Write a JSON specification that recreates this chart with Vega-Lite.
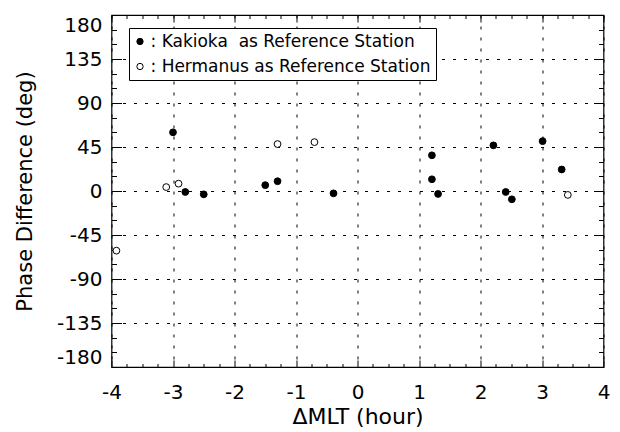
{
  "$schema": "https://vega.github.io/schema/vega-lite/v6.json",
  "width": 492,
  "height": 352,
  "autosize": {"type": "none"},
  "padding": {"left": 111.5, "top": 15, "right": 16.5, "bottom": 65},
  "background": "white",
  "config": {
    "font": "DejaVu Sans",
    "view": {"stroke": "black", "strokeWidth": 1.2},
    "axis": {"labelFont": "DejaVu Sans", "titleFont": "DejaVu Sans", "labelColor": "black", "titleColor": "black", "titleFontWeight": "normal", "tickColor": "black", "tickWidth": 1, "domain": false}
  },
  "data": {
    "values": [
      {"dmlt": -3.0, "phase": 60, "station": "Kakioka"},
      {"dmlt": -3.11, "phase": 4, "station": "Hermanus"},
      {"dmlt": -2.91, "phase": 7.5, "station": "Hermanus"},
      {"dmlt": -2.8, "phase": -1, "station": "Kakioka"},
      {"dmlt": -2.5, "phase": -3.4, "station": "Kakioka"},
      {"dmlt": -1.5, "phase": 6, "station": "Kakioka"},
      {"dmlt": -1.3, "phase": 10, "station": "Kakioka"},
      {"dmlt": -1.3, "phase": 48, "station": "Hermanus"},
      {"dmlt": -0.7, "phase": 50, "station": "Hermanus"},
      {"dmlt": -0.39, "phase": -2.4, "station": "Kakioka"},
      {"dmlt": 1.21, "phase": 36.5, "station": "Kakioka"},
      {"dmlt": 1.21, "phase": 12, "station": "Kakioka"},
      {"dmlt": 1.31, "phase": -3, "station": "Kakioka"},
      {"dmlt": 2.21, "phase": 46.7, "station": "Kakioka"},
      {"dmlt": 2.41, "phase": -1, "station": "Kakioka"},
      {"dmlt": 2.51, "phase": -8.5, "station": "Kakioka"},
      {"dmlt": 3.01, "phase": 51, "station": "Kakioka"},
      {"dmlt": 3.32, "phase": 22, "station": "Kakioka"},
      {"dmlt": 3.42, "phase": -4, "station": "Hermanus"},
      {"dmlt": -3.92, "phase": -61, "station": "Hermanus"}
    ]
  },
  "layer": [
    {
      "mark": {"type": "point", "shape": "circle", "filled": true, "stroke": "black", "strokeWidth": 1, "size": 46, "opacity": 1},
      "encoding": {
        "x": {
          "field": "dmlt", "type": "quantitative",
          "scale": {"domain": [-4, 4], "nice": false, "zero": false},
          "axis": {
            "orient": "bottom",
            "title": "ΔMLT (hour)",
            "titleFontSize": 22,
            "titlePadding": 4,
            "values": [-4, -3, -2, -1, 0, 1, 2, 3, 4],
            "labelExpr": "datum.value < 0 ? '-' + abs(datum.value) : '' + datum.value",
            "labelFontSize": 20,
            "labelPadding": 22.5,
            "labelFlush": false,
            "labelOverlap": false,
            "tickSize": -7,
            "grid": true,
            "gridColor": "black",
            "gridDash": [3, 8]
          }
        },
        "y": {
          "field": "phase", "type": "quantitative",
          "scale": {"domain": [-180, 180], "nice": false, "zero": false},
          "axis": {
            "orient": "left",
            "title": "Phase Difference (deg)",
            "titleFontSize": 21,
            "titlePadding": 21,
            "values": [-180, -135, -90, -45, 0, 45, 90, 135, 180],
            "labelExpr": "datum.value < 0 ? '-' + abs(datum.value) : '' + datum.value",
            "labelFontSize": 20,
            "labelPadding": 19.5,
            "labelFlush": true,
            "labelOverlap": false,
            "tickSize": -10,
            "grid": true,
            "gridColor": "black",
            "gridDash": [3, 8]
          }
        },
        "fill": {
          "field": "station", "type": "nominal",
          "scale": {"domain": ["Kakioka", "Hermanus"], "range": ["black", "white"]},
          "legend": {
            "orient": "none",
            "legendX": 17.5,
            "legendY": 13,
            "title": null,
            "labelExpr": "datum.label === 'Kakioka' ? ': Kakioka\u00a0 as Reference Station' : ': Hermanus as Reference Station'",
            "labelFont": "DejaVu Sans",
            "labelFontSize": 17,
            "labelColor": "black",
            "labelLimit": 500,
            "labelOffset": 2,
            "symbolOffset": -2.5,
            "symbolType": "circle",
            "symbolSize": 40,
            "symbolStrokeColor": "black",
            "symbolStrokeWidth": 1,
            "rowPadding": 7,
            "padding": 5,
            "strokeColor": "black",
            "fillColor": "white"
          }
        }
      }
    },
    {
      "mark": {"type": "point", "opacity": 0},
      "encoding": {
        "x": {"field": "dmlt", "type": "quantitative", "axis": {"orient": "top", "title": null, "values": [-4, -3, -2, -1, 0, 1, 2, 3, 4], "labels": false, "grid": false, "tickSize": -7}},
        "y": {"field": "phase", "type": "quantitative", "axis": {"orient": "right", "title": null, "values": [-180, -135, -90, -45, 0, 45, 90, 135, 180], "labels": false, "grid": false, "tickSize": -10}}
      }
    },
    {
      "mark": {"type": "point", "opacity": 0},
      "encoding": {
        "x": {"field": "dmlt", "type": "quantitative", "axis": {"orient": "bottom", "title": null, "values": [-3.75, -3.5, -3.25, -2.75, -2.5, -2.25, -1.75, -1.5, -1.25, -0.75, -0.5, -0.25, 0.25, 0.5, 0.75, 1.25, 1.5, 1.75, 2.25, 2.5, 2.75, 3.25, 3.5, 3.75], "labels": false, "grid": false, "tickSize": -3.5}},
        "y": {"field": "phase", "type": "quantitative", "axis": {"orient": "left", "title": null, "values": [-165, -150, -120, -105, -75, -60, -30, -15, 15, 30, 60, 75, 105, 120, 150, 165], "labels": false, "grid": false, "tickSize": -5}}
      }
    },
    {
      "mark": {"type": "point", "opacity": 0},
      "encoding": {
        "x": {"field": "dmlt", "type": "quantitative", "axis": {"orient": "top", "title": null, "values": [-3.75, -3.5, -3.25, -2.75, -2.5, -2.25, -1.75, -1.5, -1.25, -0.75, -0.5, -0.25, 0.25, 0.5, 0.75, 1.25, 1.5, 1.75, 2.25, 2.5, 2.75, 3.25, 3.5, 3.75], "labels": false, "grid": false, "tickSize": -3.5}},
        "y": {"field": "phase", "type": "quantitative", "axis": {"orient": "right", "title": null, "values": [-165, -150, -120, -105, -75, -60, -30, -15, 15, 30, 60, 75, 105, 120, 150, 165], "labels": false, "grid": false, "tickSize": -5}}
      }
    }
  ],
  "resolve": {"axis": {"x": "independent", "y": "independent"}}
}
